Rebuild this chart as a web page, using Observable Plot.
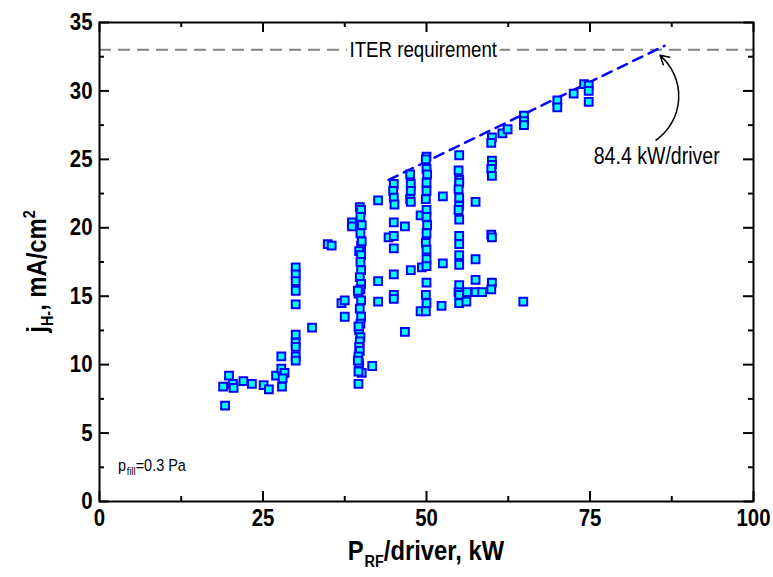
<!DOCTYPE html>
<html><head><meta charset="utf-8">
<script src="https://cdn.jsdelivr.net/npm/d3@7"></script>
<script src="https://cdn.jsdelivr.net/npm/@observablehq/plot@0.6"></script>
<style>
html,body{margin:0;padding:0;background:#fff;}
#chart{width:773px;height:577px;}
</style></head><body><div id="chart"></div>
<script>
// ---- data (P_RF per driver in kW, extracted H- current density in mA/cm2)
const power = [
  18.9,19.2,19.8,20.4,20.5,22.0,23.3,25.1,25.9,27.0,27.8,27.8,28.3,28.0,27.9,
  30.0,30.0,30.0,30.0,30.0,30.0,30.0,30.0,30.0,30.0,
  32.5,34.9,35.5,37.0,37.5,37.5,38.6,38.6,39.6,40.1,41.7,42.6,42.6,42.6,
  39.8,40.0,39.9,40.1,39.9,40.0,39.7,40.0,39.9,40.0,39.8,40.0,39.9,39.6,40.0,39.8,40.0,39.9,39.7,39.9,39.8,39.7,39.8,39.6,39.7,39.6,39.5,39.6,40.1,39.5,
  44.2,45.0,44.9,45.0,45.1,45.0,45.0,45.0,45.0,45.0,45.0,
  46.7,46.7,47.6,47.5,47.6,47.6,47.5,47.6,49.1,49.1,49.3,
  50.0,49.9,50.0,50.1,50.0,50.0,49.9,50.0,50.0,50.1,50.0,49.9,50.0,50.0,50.0,50.0,49.9,50.0,49.9,
  52.5,52.5,52.3,
  55.0,54.9,55.0,55.0,54.9,55.0,55.0,54.9,55.0,55.0,55.0,55.0,55.0,55.0,54.9,55.0,55.0,
  57.5,57.5,57.5,57.5,56.2,56.1,58.5,
  60.0,59.9,60.0,60.0,59.9,60.0,59.9,60.0,60.0,59.9,
  61.6,62.4,64.9,64.9,64.9,64.8,70.0,70.0,72.5,74.1,74.8,74.8,74.8
];
const current = [
  8.4,7.0,9.2,8.6,8.3,8.8,8.6,8.5,8.2,9.2,10.6,9.7,9.4,9.0,8.4,
  17.1,16.6,16.1,15.4,14.4,12.2,11.6,11.3,10.6,10.3,
  12.7,18.8,18.7,14.5,14.7,13.5,20.4,20.1,8.6,9.4,9.9,22.0,16.1,14.6,
  21.5,21.3,20.8,20.2,19.6,18.7,18.3,18.0,17.5,16.9,16.4,15.9,15.5,15.2,14.7,14.1,13.5,13.0,12.5,12.0,11.7,11.3,11.0,10.6,10.1,9.5,10.3,12.8,19.0,15.4,
  19.3,23.2,22.7,22.2,21.7,20.4,19.4,18.5,16.6,15.1,14.8,
  20.1,12.4,16.9,23.9,23.2,22.7,22.1,21.9,20.9,13.9,17.1,
  25.2,25.0,24.3,23.9,23.3,22.7,22.1,21.3,20.8,20.2,19.6,18.9,18.4,17.7,17.2,16.0,15.1,14.5,13.9,
  22.3,17.4,14.3,
  25.3,24.2,23.5,23.3,22.8,22.2,21.6,21.3,20.6,19.4,18.8,18.0,17.3,15.8,15.3,15.1,14.5,
  21.9,17.7,16.2,15.3,15.3,14.6,15.3,
  26.6,26.2,24.9,24.6,24.3,23.8,19.5,19.3,16.0,15.5,
  26.9,27.2,28.2,27.8,27.5,14.6,29.3,28.8,29.8,30.5,30.4,30.0,29.2
];
// extrapolated linear fit up to the ITER requirement
const fitPower = [44.2, 86.4];
const fitCurrent = [23.5, 33.3];
const iterRequirement = 33;
const iterLabel = ["ITER requirement"];
const iterLabelPower = 49.5;
const driverLabel = ["84.4 kW/driver"];
const driverLabelPos = [85.2, 25.2];
const arrowFrom = [85.1, 26.4];
const arrowTo = [85.7, 32.6];
const fillLabelPos = [2.9, 2.2];
// axes
const xMajor = [0, 25, 50, 75, 100];
const xMinor = [12.5, 37.5, 62.5, 87.5];
const yMajor = [0, 5, 10, 15, 20, 25, 30, 35];
const yMinor = [2.5, 7.5, 12.5, 17.5, 22.5, 27.5, 32.5];

const fontStack = `"Liberation Sans", Arial, sans-serif`;
const squeeze = 0.85; // the original uses a narrow Arial-like face

const points = power.map((p, i) => ({power: p, current: current[i]}));
const fit = fitPower.map((p, i) => ({power: p, current: fitCurrent[i]}));

const W = 773, H = 577, mL = 99, mR = 20, mT = 22, mB = 76;
const xPerPx = 100 / (W - mL - mR), yPerPx = 35 / (H - mT - mB);
const majorLen = 10, minorLen = 5;
const tickStyle = {stroke: "black", strokeWidth: 2};

const plot = Plot.plot({
  width: W, height: H,
  marginLeft: mL, marginRight: mR, marginTop: mT, marginBottom: mB,
  x: {domain: [0, 100]},
  y: {domain: [0, 35]},
  style: {fontFamily: fontStack, background: "white", color: "black", overflow: "visible"},
  marks: [
    Plot.ruleY([iterRequirement], {stroke: "#808080", strokeWidth: 2, strokeDasharray: "12,7"}),
    Plot.text(iterLabel, {x: iterLabelPower, y: iterRequirement, text: d => d, fontSize: 22,
      fill: "black", stroke: "white", strokeWidth: 10, paintOrder: "stroke", fontFamily: fontStack}),
    Plot.line(fit, {x: "power", y: "current", stroke: "#0000ff", strokeWidth: 2.5, strokeDasharray: "10,7"}),
    Plot.dot(points, {x: "power", y: "current", symbol: "square", r: 4.4,
      fill: "#00ffff", stroke: "#0000ff", strokeWidth: 2}),
    Plot.arrow([{}], {x1: arrowFrom[0], y1: arrowFrom[1], x2: arrowTo[0], y2: arrowTo[1],
      bend: -52, headLength: 10, stroke: "black", strokeWidth: 1.5}),
    Plot.text(driverLabel, {x: driverLabelPos[0], y: driverLabelPos[1], text: d => d, fontSize: 23,
      fill: "black", fontFamily: fontStack}),
    // inward ticks on all four sides
    Plot.ruleX(xMajor, {x: d => d, y1: 0, y2: majorLen * yPerPx, ...tickStyle}),
    Plot.ruleX(xMajor, {x: d => d, y1: 35, y2: 35 - majorLen * yPerPx, ...tickStyle}),
    Plot.ruleX(xMinor, {x: d => d, y1: 0, y2: minorLen * yPerPx, ...tickStyle}),
    Plot.ruleX(xMinor, {x: d => d, y1: 35, y2: 35 - minorLen * yPerPx, ...tickStyle}),
    Plot.ruleY(yMajor, {y: d => d, x1: 0, x2: majorLen * xPerPx, ...tickStyle}),
    Plot.ruleY(yMajor, {y: d => d, x1: 100, x2: 100 - majorLen * xPerPx, ...tickStyle}),
    Plot.ruleY(yMinor, {y: d => d, x1: 0, x2: minorLen * xPerPx, ...tickStyle}),
    Plot.ruleY(yMinor, {y: d => d, x1: 100, x2: 100 - minorLen * xPerPx, ...tickStyle}),
    Plot.frame({stroke: "black", strokeWidth: 2}),
    Plot.axisX(xMajor, {tickSize: 0, tickPadding: 7, fontSize: 24, fontWeight: "bold", label: null, fontFamily: fontStack}),
    Plot.axisY(yMajor, {tickSize: 0, tickPadding: 7, fontSize: 24, fontWeight: "bold", label: null, fontFamily: fontStack})
  ]
});

document.getElementById("chart").appendChild(plot);

// condense Plot's own labels horizontally, keeping their anchors
plot.querySelectorAll("text").forEach(t => {
  const L = t.getComputedTextLength();
  if (L > 0) {
    t.setAttribute("textLength", (L * squeeze).toFixed(2));
    t.setAttribute("lengthAdjust", "spacingAndGlyphs");
  }
});

// axis titles and the fill-pressure note with sub/superscripts (condensed by a transform)
const sx = plot.scale("x"), sy = plot.scale("y");
const svg = d3.select(plot);
const xt = svg.append("text")
  .attr("transform", `translate(${(sx.apply(0) + sx.apply(100)) / 2},560) scale(${squeeze},1)`)
  .attr("text-anchor", "middle").attr("font-size", 28).attr("font-weight", "bold")
  .attr("font-family", fontStack).attr("fill", "black");
xt.append("tspan").text("P");
xt.append("tspan").attr("font-size", 17).attr("dy", 7).attr("dx", 1).text("RF");
xt.append("tspan").attr("dy", -7).text("/driver, kW");

const yc = (sy.apply(0) + sy.apply(35)) / 2 + 10;
const yt = svg.append("text")
  .attr("transform", `translate(46,${yc}) rotate(-90) scale(${squeeze},1)`)
  .attr("text-anchor", "middle").attr("font-size", 28).attr("font-weight", "bold")
  .attr("font-family", fontStack).attr("fill", "black");
yt.append("tspan").text("j");
yt.append("tspan").attr("font-size", 17).attr("dy", 7).text("H-");
yt.append("tspan").attr("dy", -7).text(", mA/cm");
yt.append("tspan").attr("font-size", 17).attr("dy", -11).text("2");

const ft = svg.append("text")
  .attr("transform", `translate(${sx.apply(fillLabelPos[0])},${sy.apply(fillLabelPos[1])}) scale(${squeeze},1)`)
  .attr("text-anchor", "start")
  .attr("font-size", 17).attr("font-family", fontStack).attr("fill", "black");
ft.append("tspan").text("p");
ft.append("tspan").attr("font-size", 11).attr("dy", 4).attr("dx", 1).text("fill");
ft.append("tspan").attr("dy", -4).text("=0.3 Pa");
</script>
</body></html>
